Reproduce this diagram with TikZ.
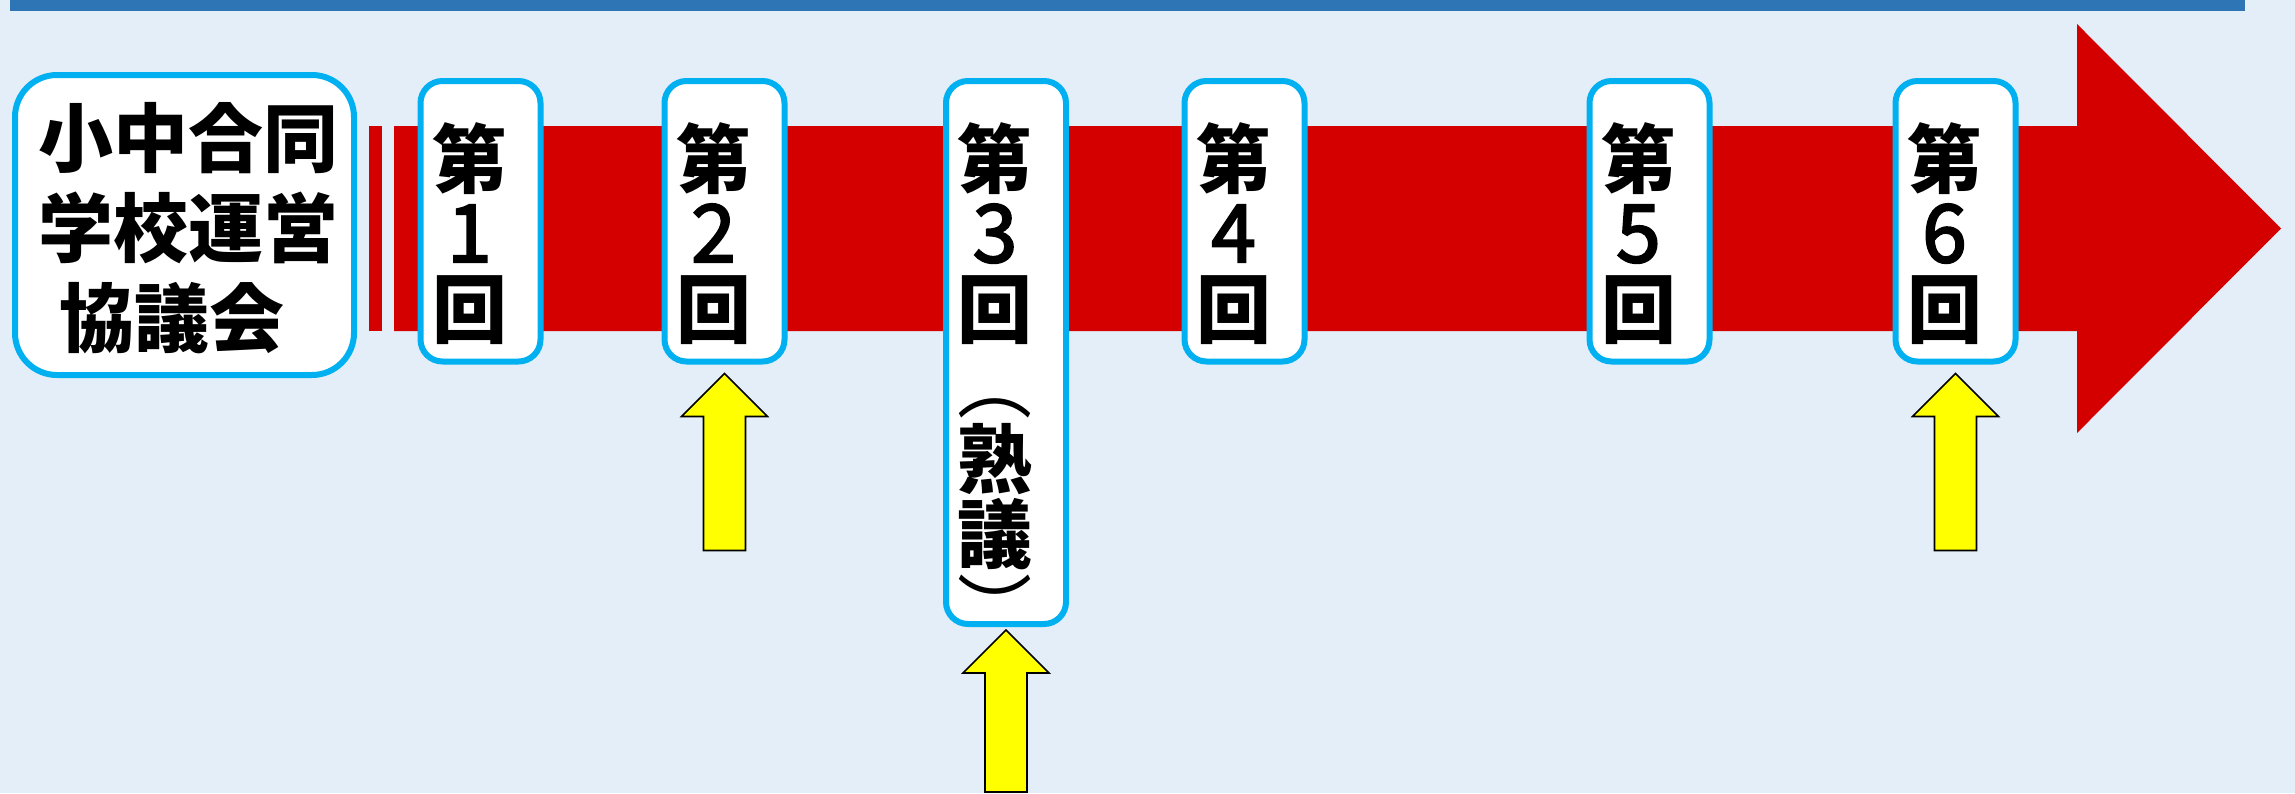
\documentclass[tikz,border=0pt]{standalone}
\usepackage{fontspec}
\newfontfamily\jpfont{Noto Sans CJK JP}
\definecolor{bgblue}{RGB}{228,238,248}
\definecolor{barblue}{RGB}{46,117,182}
\definecolor{boxcyan}{RGB}{0,176,240}
\definecolor{arrowred}{RGB}{212,0,0}
\definecolor{ayellow}{RGB}{255,255,0}
\newcommand\dg[1]{{\jpfont\mdseries\fontsize{80}{75}\selectfont\special{pdf:literal direct 2 Tr 2.2 w}#1\special{pdf:literal direct 0 Tr 1 w}}}
\begin{document}
\begin{tikzpicture}[x=1pt,y=-1pt,
  rbox/.style={draw=boxcyan, line width=6pt, fill=white, rounded corners=22pt,
    minimum width=120pt, minimum height=280.5pt, inner sep=0pt},
  vtext/.style={font=\jpfont\bfseries\fontsize{75}{75}\selectfont, align=center,
    inner sep=0pt, anchor=north},
  yarrow/.style={draw=black, line width=1.6pt, fill=ayellow, line join=miter}]
% background and bounding box
\fill[bgblue] (0,0) rectangle (2295,793);
\useasboundingbox (0,0) rectangle (2295,793);
% top bar
\fill[barblue] (10,0) rectangle (2245,11);
% big red striped arrow
\fill[arrowred] (368.5,126) rectangle (381.5,331);
\fill[arrowred] (394,126) -- (2077,126) -- (2077,24) -- (2281,228.5)
  -- (2077,433) -- (2077,331) -- (394,331) -- cycle;
% main title box
\node[draw=boxcyan, line width=6pt, fill=white, rounded corners=42pt,
  minimum width=339pt, minimum height=300pt, inner sep=0pt] (main) at (184.5,225) {};
\node[font=\jpfont\bfseries\fontsize{75}{90}\selectfont, align=left, inner sep=0pt,
  anchor=north west] (maintext) at (38,102) {小中合同\\学校運営\\\hspace*{21pt}協議会};
% meeting boxes
\node[rbox] (b1) at (480.5,221.25) {};
\node[rbox] (b2) at (724.5,221.25) {};
\node[rbox, minimum height=543pt] (b3) at (1006,352.5) {};
\node[rbox] (b4) at (1244.5,221.25) {};
\node[rbox] (b5) at (1649.5,221.25) {};
\node[rbox] (b6) at (1955.5,221.25) {};
\node[vtext] (t1) at (469.5,122) {第\\\dg{1}\\回};
\node[vtext] (t2) at (713.5,122) {第\\\dg{2}\\回};
\node[vtext] (t3) at (995,122) {第\\\dg{3}\\回\\{\mdseries ︵}\\熟\\議\\{\mdseries ︶}};
\node[vtext] (t4) at (1233.5,122) {第\\\dg{4}\\回};
\node[vtext] (t5) at (1638.5,122) {第\\\dg{5}\\回};
\node[vtext] (t6) at (1944.5,122) {第\\\dg{6}\\回};
% yellow arrows pointing to boxes
\coordinate (a2) at ([yshift=-9pt]b2.south);
\coordinate (a3) at ([yshift=-3pt]b3.south);
\coordinate (a6) at ([yshift=-9pt]b6.south);
\draw[yarrow] (a2) -- ++(43,43) -- ++(-22,0) -- ++(0,134) -- ++(-42,0) -- ++(0,-134) -- ++(-22,0) -- cycle;
\draw[yarrow] (a3) -- ++(43,43) -- ++(-22,0) -- ++(0,119) -- ++(-42,0) -- ++(0,-119) -- ++(-22,0) -- cycle;
\draw[yarrow] (a6) -- ++(43,43) -- ++(-22,0) -- ++(0,134) -- ++(-42,0) -- ++(0,-134) -- ++(-22,0) -- cycle;
\end{tikzpicture}
\end{document}
